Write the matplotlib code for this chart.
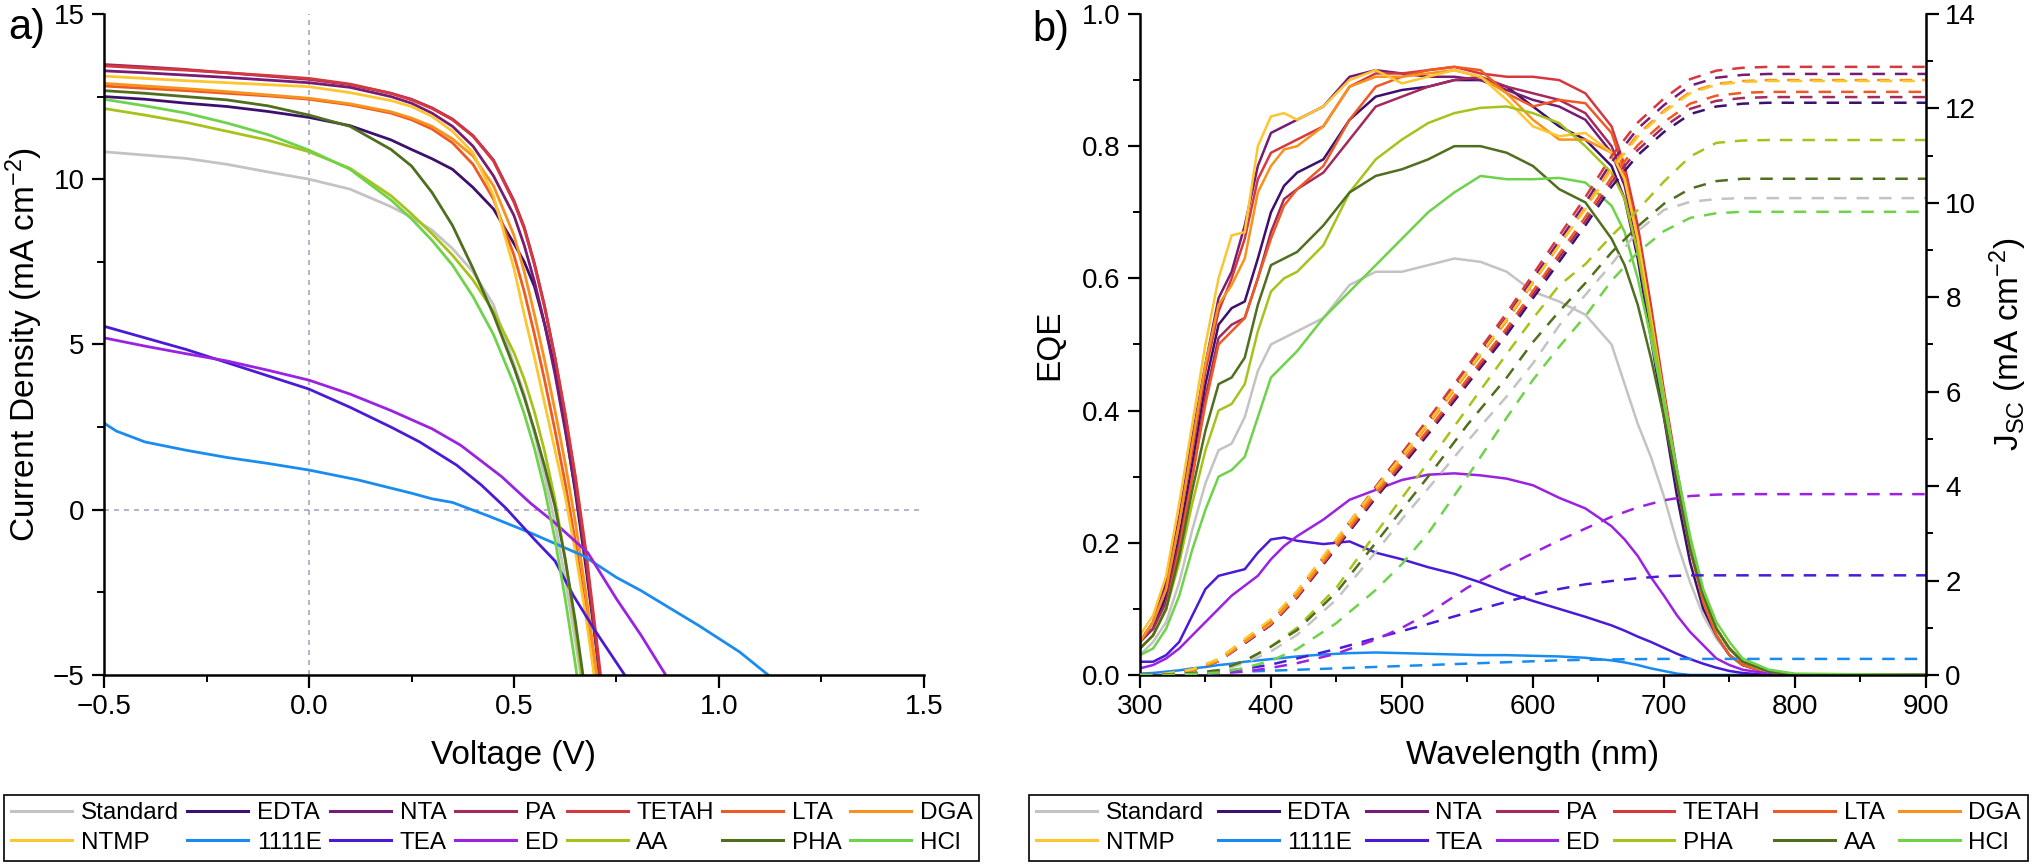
import numpy as np
import matplotlib
matplotlib.use('Agg')
import matplotlib.pyplot as plt
from matplotlib.lines import Line2D
from matplotlib.ticker import MultipleLocator, FormatStrFormatter, FuncFormatter

plt.rcParams['font.family'] = ['Liberation Sans', 'DejaVu Sans']
plt.rcParams['mathtext.default'] = 'regular'

# ── series names and colours (same colour order in both panels) ──
NAMES_A = ['Standard', 'EDTA', 'NTA', 'PA', 'TETAH', 'LTA', 'DGA',
           'NTMP', '1111E', 'TEA', 'ED', 'AA', 'PHA', 'HCl']
NAMES_B = ['Standard', 'EDTA', 'NTA', 'PA', 'TETAH', 'LTA', 'DGA',
           'NTMP', '1111E', 'TEA', 'ED', 'PHA', 'AA', 'HCl']
COLORS = ['#c3c3c3', '#3d0f6e', '#751c75', '#a32a5c', '#d6383f', '#ee5a24', '#f7921c',
          '#fcc630', '#1a8cef', '#4a1bd6', '#9b22e0', '#a8c21c', '#4f6f1f', '#6ed24b']

# ── panel a: J-V curves ──
V_MAIN = [-0.5, -0.4, -0.3, -0.2, -0.1, 0.0, 0.1, 0.2, 0.25, 0.3, 0.35, 0.4, 0.45,
          0.5, 0.525, 0.55, 0.575, 0.6, 0.625, 0.65, 0.675, 0.7, 0.725]
J_STANDARD = [10.83, 10.73, 10.63, 10.45, 10.22, 10.0, 9.7, 9.17, 8.85, 8.46, 7.9, 7.2, 6.2,
              4.4, 3.5, 2.3, 1.0, -0.4, -2.1, -4.0, -6.0, -8.0, -10.0]
J_EDTA = [12.5, 12.42, 12.3, 12.2, 12.05, 11.87, 11.62, 11.19, 10.9, 10.62, 10.3, 9.75, 9.1,
          8.05, 7.5, 6.75, 5.6, 4.25, 2.5, 0.5, -1.7, -4.1, -6.8]
J_NTA = [13.28, 13.22, 13.15, 13.08, 13.0, 12.92, 12.78, 12.5, 12.3, 12.0, 11.6, 11.0, 10.1,
         8.9, 8.0, 6.9, 5.6, 4.1, 2.4, 0.6, -1.5, -4.0, -6.8]
J_PA = [13.47, 13.4, 13.32, 13.22, 13.12, 13.02, 12.86, 12.6, 12.42, 12.16, 11.82, 11.32, 10.58,
        9.35, 8.55, 7.45, 6.15, 4.6, 2.85, 0.9, -1.4, -4.0, -6.8]
J_TETAH = [13.43, 13.36, 13.3, 13.22, 13.14, 13.05, 12.88, 12.6, 12.4, 12.14, 11.8, 11.3, 10.55,
           9.3, 8.5, 7.4, 6.1, 4.6, 2.9, 1.0, -1.2, -3.8, -6.5]
J_LTA = [12.82, 12.75, 12.68, 12.6, 12.52, 12.42, 12.25, 12.0, 11.8, 11.52, 11.1, 10.45, 9.4,
         7.7, 6.6, 5.3, 3.9, 2.4, 0.8, -1.0, -3.0, -5.3, -7.6]
J_DGA = [12.9, 12.82, 12.74, 12.65, 12.55, 12.45, 12.28, 12.04, 11.85, 11.6, 11.22, 10.7, 9.8,
         8.3, 7.2, 5.9, 4.5, 3.0, 1.4, -0.4, -2.5, -4.8, -7.2]
J_NTMP = [13.12, 13.05, 12.98, 12.92, 12.86, 12.8, 12.62, 12.38, 12.2, 11.9, 11.45, 10.8, 9.5,
          7.3, 5.9, 4.6, 3.2, 1.8, 0.4, -1.3, -3.2, -5.4, -7.6]
J_AA = [12.14, 11.94, 11.72, 11.45, 11.18, 10.83, 10.33, 9.5, 8.95, 8.35, 7.7, 6.95, 6.0,
        4.75, 3.95, 2.95, 1.75, 0.3, -1.5, -3.6, -5.9, -8.2, -10.5]
J_PHA = [12.68, 12.6, 12.5, 12.4, 12.22, 11.94, 11.6, 10.9, 10.4, 9.6, 8.6, 7.3, 5.9,
         4.3, 3.4, 2.4, 1.3, 0.1, -1.5, -3.4, -5.6, -8.0, -10.0]
J_HCL = [12.42, 12.22, 12.0, 11.7, 11.35, 10.88, 10.3, 9.37, 8.8, 8.15, 7.4, 6.45, 5.3,
         3.8, 2.9, 1.85, 0.6, -0.9, -2.7, -4.7, -7.0, -9.3, -11.6]

V_1111E = [-0.5, -0.47, -0.4, -0.3, -0.2, -0.1, 0.0, 0.12, 0.25, 0.3, 0.35, 0.44, 0.54,
           0.67, 0.75, 0.81, 0.85, 0.95, 1.05, 1.12]
J_1111E = [2.62, 2.38, 2.05, 1.8, 1.58, 1.4, 1.2, 0.9, 0.5, 0.33, 0.22, -0.2, -0.7,
           -1.4, -2.05, -2.45, -2.75, -3.5, -4.3, -5.0]
V_TEA = [-0.5, -0.4, -0.3, -0.2, -0.1, 0.0, 0.1, 0.2, 0.27, 0.36, 0.42, 0.48, 0.55,
         0.6, 0.645, 0.7, 0.77]
J_TEA = [5.55, 5.2, 4.85, 4.45, 4.05, 3.65, 3.1, 2.5, 2.05, 1.35, 0.75, 0.05, -0.9,
         -1.55, -2.6, -3.7, -5.0]
V_ED = [-0.5, -0.4, -0.3, -0.2, -0.1, 0.0, 0.1, 0.2, 0.3, 0.37, 0.47, 0.54, 0.6,
        0.68, 0.75, 0.81, 0.87]
J_ED = [5.2, 4.95, 4.72, 4.5, 4.22, 3.92, 3.5, 3.0, 2.45, 1.95, 1.0, 0.2, -0.4,
        -1.3, -2.7, -3.8, -5.0]

# ── panel b: EQE (solid, left axis) ──
WL = [300, 310, 320, 330, 340, 350, 360, 370, 380, 390, 400, 410, 420,
      440, 460, 480, 500, 520, 540, 560, 580, 600, 620, 640, 660,
      670, 680, 690, 700, 710, 720, 730, 740, 750, 760, 780, 800, 900]
EQE_STANDARD = [0.03, 0.05, 0.08, 0.14, 0.22, 0.29, 0.34, 0.35, 0.39, 0.46, 0.50, 0.51, 0.52,
                0.54, 0.59, 0.61, 0.61, 0.62, 0.63, 0.625, 0.61, 0.58, 0.565, 0.545, 0.50,
                0.44, 0.38, 0.33, 0.27, 0.20, 0.14, 0.09, 0.055, 0.03, 0.015, 0.004, 0.0, 0.0]
EQE_EDTA = [0.05, 0.07, 0.12, 0.21, 0.32, 0.44, 0.53, 0.555, 0.565, 0.63, 0.70, 0.74, 0.76,
            0.78, 0.84, 0.875, 0.885, 0.89, 0.90, 0.90, 0.89, 0.86, 0.83, 0.81, 0.77,
            0.72, 0.63, 0.51, 0.39, 0.27, 0.17, 0.10, 0.06, 0.03, 0.015, 0.003, 0.0, 0.0]
EQE_NTA = [0.05, 0.08, 0.14, 0.24, 0.36, 0.47, 0.57, 0.61, 0.68, 0.77, 0.82, 0.83, 0.84,
           0.86, 0.905, 0.915, 0.91, 0.905, 0.905, 0.90, 0.885, 0.87, 0.86, 0.84, 0.79,
           0.74, 0.65, 0.53, 0.41, 0.29, 0.19, 0.12, 0.07, 0.04, 0.02, 0.005, 0.0, 0.0]
EQE_PA = [0.05, 0.07, 0.11, 0.20, 0.30, 0.42, 0.51, 0.53, 0.54, 0.60, 0.67, 0.72, 0.735,
          0.76, 0.81, 0.86, 0.875, 0.89, 0.90, 0.905, 0.89, 0.88, 0.87, 0.85, 0.80,
          0.75, 0.66, 0.54, 0.42, 0.30, 0.20, 0.12, 0.07, 0.04, 0.02, 0.004, 0.0, 0.0]
EQE_TETAH = [0.05, 0.08, 0.13, 0.23, 0.34, 0.46, 0.55, 0.60, 0.66, 0.75, 0.79, 0.80, 0.81,
             0.83, 0.89, 0.91, 0.91, 0.915, 0.92, 0.91, 0.905, 0.905, 0.90, 0.88, 0.83,
             0.77, 0.68, 0.56, 0.43, 0.31, 0.20, 0.12, 0.07, 0.04, 0.02, 0.005, 0.0, 0.0]
EQE_LTA = [0.04, 0.06, 0.10, 0.19, 0.30, 0.41, 0.50, 0.52, 0.54, 0.60, 0.66, 0.71, 0.735,
           0.77, 0.84, 0.89, 0.905, 0.915, 0.92, 0.915, 0.88, 0.86, 0.87, 0.865, 0.82,
           0.76, 0.66, 0.53, 0.41, 0.29, 0.19, 0.11, 0.06, 0.03, 0.015, 0.003, 0.0, 0.0]
EQE_DGA = [0.05, 0.08, 0.13, 0.23, 0.35, 0.47, 0.56, 0.59, 0.63, 0.73, 0.77, 0.795, 0.80,
           0.83, 0.89, 0.905, 0.905, 0.91, 0.915, 0.905, 0.88, 0.84, 0.81, 0.81, 0.79,
           0.75, 0.66, 0.54, 0.42, 0.30, 0.20, 0.12, 0.07, 0.04, 0.02, 0.004, 0.0, 0.0]
EQE_NTMP = [0.06, 0.09, 0.15, 0.26, 0.38, 0.50, 0.60, 0.665, 0.67, 0.80, 0.845, 0.85, 0.84,
            0.86, 0.90, 0.915, 0.895, 0.905, 0.915, 0.905, 0.87, 0.83, 0.815, 0.82, 0.79,
            0.75, 0.66, 0.54, 0.42, 0.30, 0.20, 0.12, 0.07, 0.04, 0.02, 0.004, 0.0, 0.0]
EQE_1111E = [0.002, 0.003, 0.005, 0.007, 0.01, 0.012, 0.015, 0.017, 0.02, 0.022, 0.024, 0.026, 0.028,
             0.031, 0.033, 0.034, 0.033, 0.032, 0.031, 0.030, 0.030, 0.029, 0.028, 0.026, 0.022,
             0.019, 0.015, 0.01, 0.006, 0.002, 0.0, 0.0, 0.0, 0.0, 0.0, 0.0, 0.0, 0.0]
EQE_TEA = [0.02, 0.02, 0.03, 0.05, 0.09, 0.13, 0.15, 0.155, 0.16, 0.185, 0.205, 0.208, 0.203,
           0.198, 0.202, 0.185, 0.175, 0.163, 0.153, 0.14, 0.125, 0.112, 0.10, 0.088, 0.075,
           0.067, 0.058, 0.05, 0.041, 0.032, 0.024, 0.017, 0.011, 0.006, 0.003, 0.0, 0.0, 0.0]
EQE_ED = [0.01, 0.015, 0.025, 0.04, 0.06, 0.08, 0.10, 0.12, 0.135, 0.15, 0.175, 0.195, 0.21,
          0.235, 0.265, 0.28, 0.295, 0.303, 0.305, 0.302, 0.297, 0.287, 0.268, 0.252, 0.225,
          0.205, 0.18, 0.148, 0.12, 0.09, 0.065, 0.045, 0.025, 0.015, 0.008, 0.002, 0.0, 0.0]
EQE_YG = [0.04, 0.06, 0.10, 0.17, 0.26, 0.34, 0.40, 0.41, 0.44, 0.52, 0.58, 0.60, 0.61,
          0.65, 0.73, 0.78, 0.81, 0.835, 0.85, 0.858, 0.86, 0.85, 0.835, 0.80, 0.76,
          0.72, 0.64, 0.53, 0.42, 0.30, 0.20, 0.12, 0.07, 0.04, 0.02, 0.005, 0.001, 0.0]
EQE_OLIVE = [0.04, 0.06, 0.10, 0.18, 0.28, 0.37, 0.44, 0.45, 0.48, 0.56, 0.62, 0.63, 0.64,
             0.68, 0.73, 0.755, 0.765, 0.78, 0.80, 0.80, 0.79, 0.77, 0.735, 0.715, 0.66,
             0.62, 0.56, 0.48, 0.39, 0.29, 0.19, 0.12, 0.07, 0.04, 0.02, 0.005, 0.001, 0.0]
EQE_HCL = [0.03, 0.04, 0.07, 0.12, 0.19, 0.25, 0.30, 0.31, 0.33, 0.39, 0.45, 0.47, 0.49,
           0.54, 0.58, 0.62, 0.66, 0.70, 0.73, 0.755, 0.75, 0.75, 0.752, 0.745, 0.71,
           0.67, 0.60, 0.51, 0.41, 0.31, 0.21, 0.13, 0.08, 0.05, 0.025, 0.008, 0.002, 0.0]

# ── panel b: integrated Jsc (dashed, right axis) ──
WL_J = [300, 320, 340, 360, 380, 400, 420, 450, 480, 500, 520, 550, 580, 600, 620,
        640, 660, 680, 700, 720, 740, 760, 780, 800, 900]
JSC_STANDARD = [0, 0.01, 0.03, 0.08, 0.25, 0.5, 0.85, 1.6, 2.6, 3.3, 3.95, 4.95, 5.9, 6.6, 7.4,
                8.05, 8.7, 9.4, 9.85, 10.02, 10.08, 10.1, 10.1, 10.1, 10.1]
JSC_EDTA = [0, 0.02, 0.1, 0.29, 0.67, 1.06, 1.64, 2.69, 3.75, 4.42, 5.1, 6.16, 7.21, 7.98, 8.75,
            9.52, 10.34, 11.01, 11.5, 11.88, 12.04, 12.1, 12.12, 12.12, 12.12]
JSC_NTA = [0, 0.02, 0.1, 0.3, 0.71, 1.11, 1.72, 2.83, 3.94, 4.65, 5.35, 6.47, 7.58, 8.39, 9.19,
           10.0, 10.86, 11.57, 12.07, 12.48, 12.65, 12.71, 12.73, 12.73, 12.73]
JSC_PA = [0, 0.02, 0.1, 0.29, 0.68, 1.07, 1.65, 2.72, 3.79, 4.47, 5.15, 6.21, 7.28, 8.06, 8.84,
          9.61, 10.44, 11.12, 11.61, 11.99, 12.16, 12.22, 12.24, 12.24, 12.24]
JSC_TETAH = [0, 0.02, 0.1, 0.31, 0.72, 1.12, 1.74, 2.86, 3.99, 4.7, 5.42, 6.54, 7.67, 8.48, 9.3,
             10.12, 10.99, 11.7, 12.21, 12.62, 12.8, 12.86, 12.88, 12.88, 12.88]
JSC_LTA = [0, 0.02, 0.1, 0.29, 0.69, 1.08, 1.67, 2.74, 3.82, 4.51, 5.19, 6.27, 7.35, 8.13, 8.92,
           9.7, 10.54, 11.22, 11.71, 12.1, 12.27, 12.33, 12.35, 12.35, 12.35]
JSC_DGA = [0, 0.02, 0.1, 0.3, 0.7, 1.1, 1.7, 2.8, 3.9, 4.6, 5.3, 6.4, 7.5, 8.3, 9.1,
           9.9, 10.75, 11.45, 11.95, 12.35, 12.52, 12.58, 12.6, 12.6, 12.6]
JSC_NTMP = [0, 0.03, 0.12, 0.34, 0.76, 1.18, 1.78, 2.88, 3.96, 4.64, 5.34, 6.44, 7.54, 8.32, 9.1,
            9.86, 10.7, 11.4, 11.92, 12.32, 12.5, 12.56, 12.58, 12.58, 12.58]
JSC_1111E = [0, 0.01, 0.03, 0.05, 0.07, 0.09, 0.11, 0.14, 0.17, 0.19, 0.21, 0.24, 0.27, 0.29, 0.31,
             0.32, 0.33, 0.335, 0.34, 0.34, 0.34, 0.34, 0.34, 0.34, 0.34]
JSC_TEA = [0, 0.01, 0.03, 0.07, 0.13, 0.22, 0.35, 0.55, 0.78, 0.93, 1.08, 1.32, 1.55, 1.7, 1.82,
           1.92, 1.99, 2.05, 2.09, 2.11, 2.11, 2.11, 2.11, 2.11, 2.11]
JSC_ED = [0, 0.01, 0.02, 0.04, 0.07, 0.15, 0.25, 0.45, 0.75, 1.0, 1.3, 1.85, 2.3, 2.58, 2.85,
          3.1, 3.35, 3.55, 3.7, 3.79, 3.82, 3.83, 3.83, 3.83, 3.83]
JSC_YG = [0, 0.01, 0.04, 0.1, 0.3, 0.6, 1.0, 1.85, 3.0, 3.75, 4.5, 5.65, 6.8, 7.55, 8.25,
          8.7, 9.3, 9.85, 10.45, 10.98, 11.27, 11.32, 11.33, 11.33, 11.33]
JSC_OLIVE = [0, 0.01, 0.04, 0.1, 0.3, 0.6, 0.95, 1.75, 2.8, 3.5, 4.2, 5.3, 6.3, 7.05, 7.7,
             8.3, 8.95, 9.5, 9.98, 10.3, 10.46, 10.51, 10.51, 10.51, 10.51]
JSC_HCL = [0, 0.0, 0.02, 0.05, 0.15, 0.3, 0.55, 1.1, 1.8, 2.35, 3.0, 4.2, 5.45, 6.25, 6.95,
           7.6, 8.35, 8.95, 9.4, 9.68, 9.78, 9.81, 9.81, 9.81, 9.81]


def minus(fmt):
    return FuncFormatter(lambda v, _: fmt.format(v).replace('-', '\u2212'))


def style_axis(ax):
    for side in ['left', 'bottom', 'right']:
        ax.spines[side].set_linewidth(1.8)
    ax.spines['top'].set_visible(False)
    ax.tick_params(which='major', direction='out', length=9, width=1.6, labelsize=20, pad=5)
    ax.tick_params(which='minor', direction='out', length=5, width=1.4)


def add_legend(fig, names, bbox):
    # legend fills column by column, so interleave the two rows
    handles, labels = [], []
    for c in range(7):
        for r in range(2):
            i = r * 7 + c
            handles.append(Line2D([], [], color=COLORS[i], lw=2.2))
            labels.append(names[i])
    leg = fig.legend(handles, labels, ncol=7, loc='lower left', bbox_to_anchor=bbox,
                     mode='expand', borderaxespad=0, fancybox=False, edgecolor='black',
                     framealpha=1, fontsize=17.5, handlelength=2.5, handletextpad=0.35,
                     labelspacing=0.3, borderpad=0.3)
    leg.get_frame().set_linewidth(1.2)
    return leg


fig = plt.figure(figsize=(20.32, 8.68), dpi=100)

# ── a) J-V ──
ax_a = fig.add_axes([0.0512, 0.2224, 0.4035, 0.7615])
ax_a.axhline(0, color='#a6a6c4', lw=1.2, ls=(0, (3, 3)), zorder=0)
ax_a.axvline(0, color='#a6a6c4', lw=1.2, ls=(0, (3, 3)), zorder=0)
jv_curves = [(V_MAIN, J_STANDARD), (V_MAIN, J_EDTA), (V_MAIN, J_NTA), (V_MAIN, J_PA),
             (V_MAIN, J_TETAH), (V_MAIN, J_LTA), (V_MAIN, J_DGA), (V_MAIN, J_NTMP),
             (V_1111E, J_1111E), (V_TEA, J_TEA), (V_ED, J_ED), (V_MAIN, J_AA),
             (V_MAIN, J_PHA), (V_MAIN, J_HCL)]
for (v, j), c in zip(jv_curves, COLORS):
    ax_a.plot(v, j, color=c, lw=2)
ax_a.set_xlim(-0.5, 1.5)
ax_a.set_ylim(-5, 15)
ax_a.xaxis.set_major_locator(MultipleLocator(0.5))
ax_a.xaxis.set_minor_locator(MultipleLocator(0.25))
ax_a.yaxis.set_major_locator(MultipleLocator(5))
ax_a.yaxis.set_minor_locator(MultipleLocator(2.5))
ax_a.xaxis.set_major_formatter(minus('{:.1f}'))
ax_a.yaxis.set_major_formatter(minus('{:.0f}'))
style_axis(ax_a)
ax_a.spines['right'].set_visible(False)
ax_a.set_xlabel('Voltage (V)', fontsize=24, labelpad=14)
ax_a.set_ylabel('Current Density (mA cm$^{-2}$)', fontsize=24, labelpad=6)

# ── b) EQE + integrated Jsc ──
ax_b = fig.add_axes([0.5610, 0.2224, 0.3868, 0.7615])
ax_j = ax_b.twinx()
eqe_curves = [EQE_STANDARD, EQE_EDTA, EQE_NTA, EQE_PA, EQE_TETAH, EQE_LTA, EQE_DGA,
              EQE_NTMP, EQE_1111E, EQE_TEA, EQE_ED, EQE_YG, EQE_OLIVE, EQE_HCL]
jsc_curves = [JSC_STANDARD, JSC_EDTA, JSC_NTA, JSC_PA, JSC_TETAH, JSC_LTA, JSC_DGA,
              JSC_NTMP, JSC_1111E, JSC_TEA, JSC_ED, JSC_YG, JSC_OLIVE, JSC_HCL]
for e, c in zip(eqe_curves, COLORS):
    ax_b.plot(WL, e, color=c, lw=1.8)
for jv, c in zip(jsc_curves, COLORS):
    ax_j.plot(WL_J, jv, color=c, lw=1.8, ls=(0, (5, 4)))
ax_b.set_xlim(300, 900)
ax_b.set_ylim(0, 1.0)
ax_j.set_ylim(0, 14)
ax_b.xaxis.set_major_locator(MultipleLocator(100))
ax_b.xaxis.set_minor_locator(MultipleLocator(50))
ax_b.yaxis.set_major_locator(MultipleLocator(0.2))
ax_b.yaxis.set_minor_locator(MultipleLocator(0.1))
ax_b.yaxis.set_major_formatter(FormatStrFormatter('%.1f'))
ax_j.yaxis.set_major_locator(MultipleLocator(2))
ax_j.yaxis.set_minor_locator(MultipleLocator(1))
style_axis(ax_b)
style_axis(ax_j)
ax_b.spines['right'].set_visible(False)
ax_j.spines['left'].set_visible(False)
ax_j.spines['bottom'].set_visible(False)
ax_b.set_xlabel('Wavelength (nm)', fontsize=24, labelpad=14)
ax_b.set_ylabel('EQE', fontsize=24, labelpad=12)
ax_j.set_ylabel('J$_{SC}$ (mA cm$^{-2}$)', fontsize=24, labelpad=8)

# panel letters
fig.text(0.004, 0.968, 'a)', fontsize=30, va='center', ha='left')
fig.text(0.508, 0.965, 'b)', fontsize=30, va='center', ha='left')

# legends below each panel
add_legend(fig, NAMES_A, (0.002, 0.008, 0.480, 0.074))
add_legend(fig, NAMES_B, (0.5064, 0.008, 0.4916, 0.074))

fig.savefig('out.png', dpi=100)
